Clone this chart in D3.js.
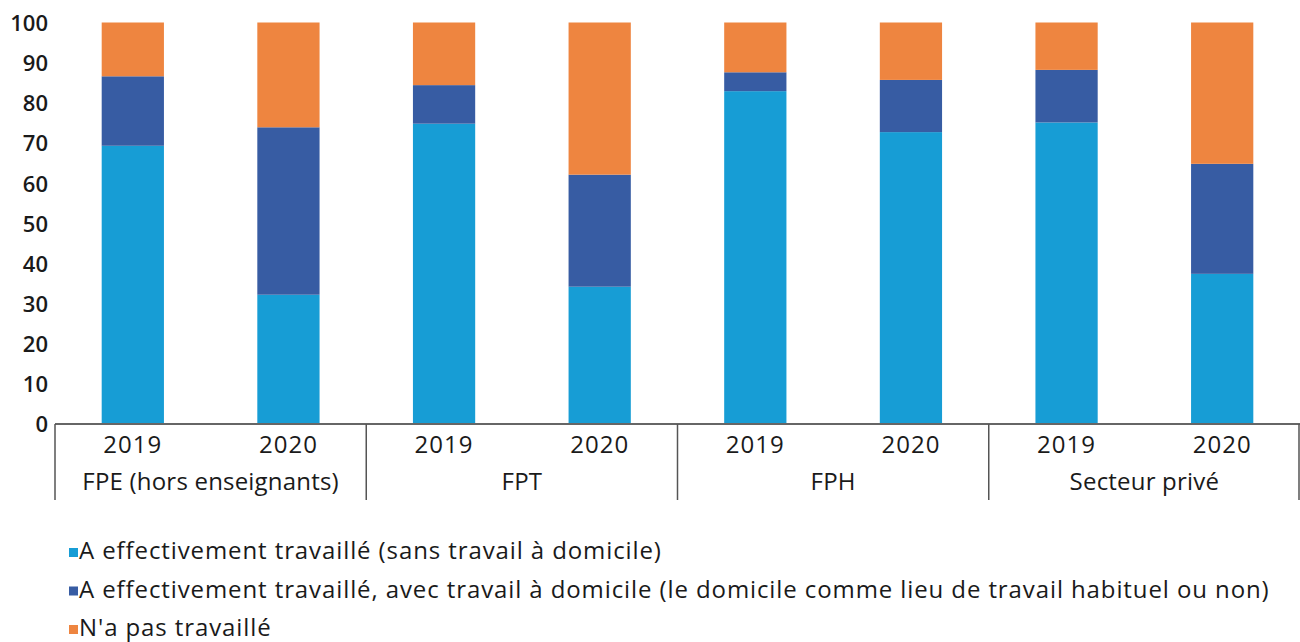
<!DOCTYPE html>
<html><head><meta charset="utf-8">
<script src="https://cdn.jsdelivr.net/npm/d3@7"></script>
<style>
body{margin:0;background:#fff;}
svg{display:block;}
</style></head>
<body>
<svg id="c" width="1300" height="642"></svg>
<script>
const groups = ["FPE (hors enseignants)", "FPT", "FPH", "Secteur privé"];
const years = ["2019", "2020"];
const seriesNames = [
  "A effectivement travaillé (sans travail à domicile)",
  "A effectivement travaillé, avec travail à domicile (le domicile comme lieu de travail habituel ou non)",
  "N'a pas travaillé"
];
// order: FPE19, FPE20, FPT19, FPT20, FPH19, FPH20, Privé19, Privé20
const sansDomicile = [69.3, 32.2, 74.8, 34.2, 82.9, 72.7, 75.1, 37.4];
const avecDomicile = [17.3, 41.7, 9.6, 27.9, 4.7, 13.0, 13.1, 27.4];
const pasTravaille = [13.4, 26.1, 15.6, 37.9, 12.4, 14.3, 11.8, 35.2];
const yTicks = [0,10,20,30,40,50,60,70,80,90,100];
const colors = ["#179dd5", "#375ca3", "#ee8540"];

const keys = ["s0","s1","s2"];
const rows = [];
groups.forEach((g,gi)=>years.forEach((y,yi)=>{
  const i = gi*2+yi;
  rows.push({id:g+"|"+y, group:g, year:y, s0:sansDomicile[i], s1:avecDomicile[i], s2:pasTravaille[i]});
}));

const svg = d3.select("#c");
const font = "'Open Sans', Lato, sans-serif";
const textCol = "#1a1a1a";
const x0 = 55, x1 = 1300;
const yTop = 22.5, yBot = 424;
const x = d3.scaleBand().domain(rows.map(d=>d.id)).range([x0,x1]).paddingInner(0.6).paddingOuter(0.3);
const y = d3.scaleLinear().domain([0,100]).range([yBot,yTop]);

const stack = d3.stack().keys(keys)(rows);
svg.append("g").selectAll("g").data(stack).join("g")
  .attr("fill",(d,i)=>colors[i])
  .selectAll("rect").data(d=>d).join("rect")
  .attr("x",d=>x(d.data.id))
  .attr("width",x.bandwidth())
  .attr("y",d=>y(d[1]))
  .attr("height",d=>y(d[0])-y(d[1]));

// y axis labels
const yAxis = d3.axisLeft(y).tickValues(yTicks).tickSize(0).tickPadding(0);
const yg = svg.append("g").attr("transform","translate(48,0)").call(yAxis);
yg.select(".domain").remove();
yg.selectAll("text").attr("font-family",font).attr("font-size",22).attr("font-weight",600)
  .attr("fill",textCol).attr("dy","0.36em");

// x axis line
svg.append("line").attr("x1",x0).attr("x2",x1).attr("y1",yBot).attr("y2",yBot)
  .attr("stroke","#666").attr("stroke-width",2);

// group separators
const gw = (x1-x0)/groups.length;
const sepX = d3.range(groups.length+1).map(i=>x0+i*gw);
svg.append("g").selectAll("line").data(sepX).join("line")
  .attr("x1",d=>Math.min(d,1299)).attr("x2",d=>Math.min(d,1299))
  .attr("y1",yBot).attr("y2",500)
  .attr("stroke","#555").attr("stroke-width",1.5);

// year labels
svg.append("g").selectAll("text").data(rows).join("text")
  .attr("x",d=>x(d.id)+x.bandwidth()/2).attr("y",453)
  .attr("text-anchor","middle").attr("font-family",font).attr("font-size",24).attr("font-weight",500)
  .attr("letter-spacing",1).attr("fill",textCol).text(d=>d.year);

// group labels
svg.append("g").selectAll("text").data(groups).join("text")
  .attr("x",(d,i)=>x0+gw*(i+0.5)).attr("y",490)
  .attr("text-anchor","middle").attr("font-family",font).attr("font-size",24).attr("font-weight",500)
  .attr("letter-spacing",0.2).attr("fill",textCol).text(d=>d);

// legend
const lg = svg.append("g").selectAll("g").data(seriesNames).join("g")
  .attr("transform",(d,i)=>`translate(69,${559+i*38.5})`);
lg.append("rect").attr("x",0).attr("y",-11).attr("width",9).attr("height",9).attr("fill",(d,i)=>colors[i]);
lg.append("text").attr("x",10).attr("y",0).attr("font-family",font).attr("font-size",24).attr("font-weight",500)
  .attr("letter-spacing",0.9).attr("fill",textCol).text(d=>d);
</script>
</body></html>
